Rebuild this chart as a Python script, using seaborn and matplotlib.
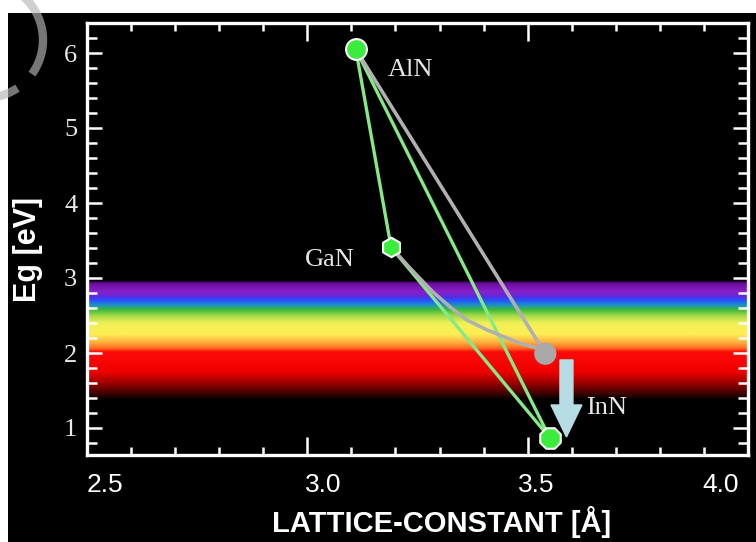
import numpy as np
import seaborn as sns
import matplotlib.pyplot as plt
from matplotlib.colors import LinearSegmentedColormap
from matplotlib.patches import Rectangle, Arc, FancyArrow
from matplotlib.ticker import MultipleLocator
from matplotlib.transforms import ScaledTranslation

# nitride end points: lattice constant [A], band gap [eV]
compounds = ["AlN", "GaN", "InN"]
lattice = [3.11, 3.19, 3.55]
bandgap = [6.05, 3.41, 0.87]

# old InN value (grey point)
inn_old_lattice = 3.54
inn_old_gap = 1.99

# grey bowing curve GaN -> old InN
bow_lattice = [3.19, 3.237, 3.285, 3.324, 3.362, 3.408, 3.453, 3.487, 3.521, 3.54]
bow_gap = [3.41, 3.107, 2.813, 2.613, 2.44, 2.307, 2.20, 2.12, 2.067, 1.99]

# visible spectrum band (energy stops and colours)
spec_ev = [1.37, 1.45, 1.60, 1.75, 2.01, 2.06, 2.14, 2.25, 2.40, 2.50,
           2.58, 2.64, 2.70, 2.75, 2.82, 2.93, 2.97]
spec_col = ["#000000", "#3a0000", "#a00000", "#f00000", "#ff0a0a", "#ff6a20",
            "#ffb040", "#ffee55", "#f0f055", "#a0d848", "#38b83a", "#1e90c8",
            "#2255ff", "#5a2ae0", "#8a20c8", "#6a0ca0", "#000000"]

x_ticks = [2.5, 3.0, 3.5, 4.0]
x_ticklabels = ["2.5", "3.0", "3.5", "4.0"]
y_ticks = [1, 2, 3, 4, 5, 6]

sns.set_theme(style="ticks")
plt.rcParams["font.family"] = ["Liberation Sans", "DejaVu Sans"]

fig = plt.figure(figsize=(7.56, 5.42), dpi=100, facecolor="white")
# black backdrop of the picture
fig.add_artist(Rectangle((8 / 756, 0), 1, (542 - 13) / 542, transform=fig.transFigure,
                         facecolor="black", edgecolor="none", zorder=-5))
# faint watermark arc in the corner
for t1, t2 in [(-36, 60), (-100, -56)]:
    fig.add_artist(Arc((-0.15, 5.02), 1.16, 1.16, theta1=t1, theta2=t2,
                       transform=fig.dpi_scale_trans, color="#b6b6b6", alpha=0.65,
                       lw=6, zorder=10))

ax = fig.add_axes([87 / 756, 1 - 455 / 542, (748 - 87) / 756, (455 - 23) / 542])
ax.set_facecolor("black")

# spectrum gradient
lo, hi = spec_ev[0], spec_ev[-1]
stops = [((e - lo) / (hi - lo), c) for e, c in zip(spec_ev, spec_col)]
cmap = LinearSegmentedColormap.from_list("spectrum", stops)
ax.imshow(np.linspace(0, 1, 400).reshape(-1, 1), extent=[2.5, 4.0, lo, hi],
          origin="lower", aspect="auto", cmap=cmap, zorder=0, interpolation="bilinear")

green_line = "#86e886"
grey_line = "#b0b0b0"

# green triangle AlN-GaN-InN
for i, j in [(0, 1), (0, 2), (1, 2)]:
    sns.lineplot(x=[lattice[i], lattice[j]], y=[bandgap[i], bandgap[j]], sort=False,
                 estimator=None, color=green_line, lw=2.4, ax=ax, zorder=2)
# grey lines to old InN value
sns.lineplot(x=[lattice[0], inn_old_lattice], y=[bandgap[0], inn_old_gap], sort=False,
             estimator=None, color=grey_line, lw=2.6, ax=ax, zorder=2)
sns.lineplot(x=bow_lattice, y=bow_gap, sort=False, estimator=None,
             color=grey_line, lw=2.6, ax=ax, zorder=2)

# markers
sns.scatterplot(x=[inn_old_lattice], y=[inn_old_gap], s=16 ** 2, color="#a8a8a8",
                edgecolor="none", ax=ax, zorder=3)
for lx, gy, mk, sz in zip(lattice, bandgap, ["o", "h", "8"], [15, 14, 16]):
    sns.scatterplot(x=[lx], y=[gy], marker=mk, s=sz ** 2, color="#3cec3c",
                    edgecolor="white", linewidth=1.5, ax=ax, zorder=3)

# arrow pointing to new InN value
ax.add_patch(FancyArrow(3.588, 1.907, 0, 0.88 - 1.907, width=0.0295, head_width=0.07,
                        head_length=0.427, length_includes_head=True,
                        color="#b5dde3", zorder=4))

label_pos = [(3.233, 5.77), (3.051, 3.24), (3.678, 1.27)]
for name, (tx, ty) in zip(compounds, label_pos):
    ax.text(tx, ty, name, color="#e6e6e6", fontsize=19, family="Liberation Serif",
            ha="center", va="center", zorder=5)

ax.set_xlim(2.5, 4.0)
ax.set_ylim(0.64, 6.4)
ax.set_xticks(x_ticks)
ax.set_xticklabels(x_ticklabels, fontsize=19, color="white")
ax.set_yticks(y_ticks)
ax.set_yticklabels([str(v) for v in y_ticks], fontsize=19, color="#e8e8e8",
                   family="Liberation Serif")
ax.xaxis.set_minor_locator(MultipleLocator(0.1))
ax.yaxis.set_minor_locator(MultipleLocator(0.2))
ax.tick_params(axis="both", which="both", direction="in", top=True, right=True,
               color="white", width=1.8)
ax.tick_params(axis="x", which="major", length=13, pad=13)
ax.tick_params(axis="x", which="minor", length=6)
ax.tick_params(axis="y", which="major", length=11, pad=7)
ax.tick_params(axis="y", which="minor", length=7)
for sp in ax.spines.values():
    sp.set_color("white")
    sp.set_linewidth(2.4)

# x tick labels sit a little off their ticks in the original
for lab, dx in zip(ax.get_xticklabels(), [18, 16, 9, -27]):
    lab.set_transform(lab.get_transform() + ScaledTranslation(dx / 100, 0, fig.dpi_scale_trans))

ax.set_xlabel("LATTICE-CONSTANT [Å]", fontsize=21, fontweight="bold", color="white",
              family=["Liberation Sans", "DejaVu Sans"])
ax.xaxis.set_label_coords(0.537, -0.118)
ax.set_ylabel("Eg [eV]", fontsize=22, fontweight="bold", color="white")
ax.yaxis.set_label_coords(-0.0666, 0.475)

fig.savefig("out.png", dpi=100, facecolor="white")
